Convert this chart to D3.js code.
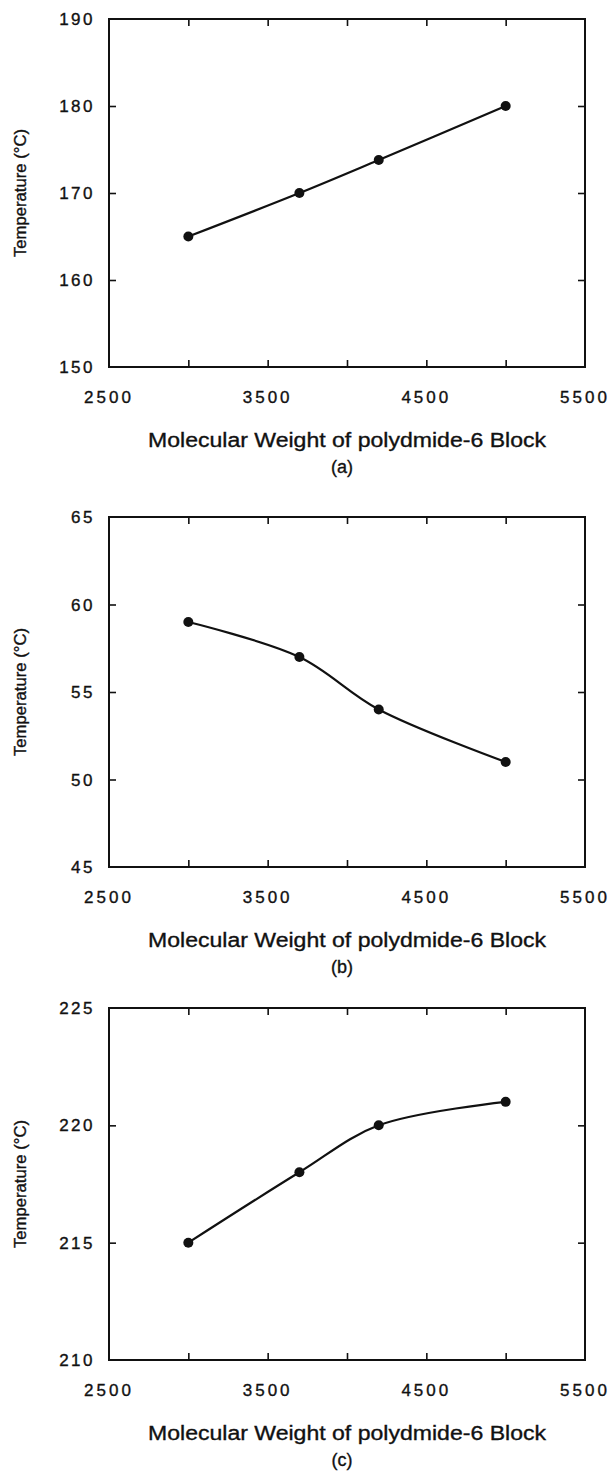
<!DOCTYPE html>
<html>
<head>
<meta charset="utf-8">
<script src="https://cdn.jsdelivr.net/npm/d3@7"></script>
<style>
  body { margin: 0; background: #fff; }
  text { font-family: "Liberation Sans", Arial, sans-serif; fill: #111; stroke: #111; stroke-width: 0.35; }
</style>
</head>
<body>
<div id="chart"></div>
<script>
var width = 610, height = 1478;

// molecular weight of the polyamide-6 block
var molWeight = [3000, 3700, 4200, 5000];
var xTicks = [2500, 3500, 4500, 5500];

// temperatures
var tempA = [165, 170, 173.8, 180];
var tempB = [59, 57, 54, 51];
var tempC = [215, 218, 220, 221];

var yTicksA = [150, 160, 170, 180, 190];
var yTicksB = [45, 50, 55, 60, 65];
var yTicksC = [210, 215, 220, 225];

var panels = [
  { values: tempA, ticks: yTicksA, label: "(a)", top: 19, bottom: 367 },
  { values: tempB, ticks: yTicksB, label: "(b)", top: 517, bottom: 867 },
  { values: tempC, ticks: yTicksC, label: "(c)", top: 1008, bottom: 1360 }
];

var left = 109, right = 585;

var svg = d3.select("#chart")
  .append("svg")
  .attr("width", width)
  .attr("height", height);

panels.forEach(function(p) {
  var x = d3.scaleLinear().domain([2500, 5500]).range([left, right]);
  var y = d3.scaleLinear().domain(d3.extent(p.ticks)).range([p.bottom, p.top]);

  var g = svg.append("g");

  // inner ticks on all four sides
  var xInner = d3.range(3000, 5001, 500);
  var yInner = p.ticks.slice(1, -1);
  var tk = 7;

  g.append("g")
    .attr("transform", "translate(0," + p.bottom + ")")
    .call(d3.axisBottom(x).tickValues(xInner).tickSize(-tk).tickFormat(""));
  g.append("g")
    .attr("transform", "translate(0," + p.top + ")")
    .call(d3.axisTop(x).tickValues(xInner).tickSize(-tk).tickFormat(""));
  g.append("g")
    .attr("transform", "translate(" + left + ",0)")
    .call(d3.axisLeft(y).tickValues(yInner).tickSize(-tk).tickFormat(""));
  g.append("g")
    .attr("transform", "translate(" + right + ",0)")
    .call(d3.axisRight(y).tickValues(yInner).tickSize(-tk).tickFormat(""));

  g.selectAll(".domain").remove();
  g.selectAll(".tick line").attr("stroke", "#111").attr("stroke-width", 1.6);

  // frame
  g.append("rect")
    .attr("x", left).attr("y", p.top)
    .attr("width", right - left).attr("height", p.bottom - p.top)
    .attr("fill", "none").attr("stroke", "#111").attr("stroke-width", 2);

  // y tick labels
  g.selectAll(".ylab")
    .data(p.ticks)
    .enter().append("text")
    .attr("x", left - 14)
    .attr("y", function(d) { return y(d); })
    .attr("dy", "0.36em")
    .attr("text-anchor", "end")
    .attr("font-size", 17)
    .attr("letter-spacing", 2.5)
    .text(function(d) { return d; });

  // x tick labels
  g.selectAll(".xlab")
    .data(xTicks)
    .enter().append("text")
    .attr("x", function(d) { return x(d); })
    .attr("y", p.bottom + 36)
    .attr("text-anchor", "middle")
    .attr("font-size", 17)
    .attr("letter-spacing", 3)
    .text(function(d) { return d; });

  // axis titles
  g.append("text")
    .attr("x", (left + right) / 2)
    .attr("y", p.bottom + 80)
    .attr("text-anchor", "middle")
    .attr("font-size", 20)
    .attr("textLength", 398)
    .attr("lengthAdjust", "spacingAndGlyphs")
    .text("Molecular Weight of polydmide-6 Block");

  g.append("text")
    .attr("transform", "translate(26," + (p.top + p.bottom) / 2 + ") rotate(-90)")
    .attr("text-anchor", "middle")
    .attr("font-size", 16)
    .attr("textLength", 128)
    .attr("lengthAdjust", "spacingAndGlyphs")
    .text("Temperature (\u00B0C)");

  g.append("text")
    .attr("x", (left + right) / 2 - 5)
    .attr("y", p.bottom + 106)
    .attr("text-anchor", "middle")
    .attr("font-size", 18)
    .text(p.label);

  // curve and markers
  var pts = molWeight.map(function(m, i) { return [m, p.values[i]]; });
  var line = d3.line()
    .x(function(d) { return x(d[0]); })
    .y(function(d) { return y(d[1]); })
    .curve(d3.curveCatmullRom.alpha(0.5));

  g.append("path")
    .datum(pts)
    .attr("d", line)
    .attr("fill", "none")
    .attr("stroke", "#111")
    .attr("stroke-width", 2.2);

  g.selectAll(".pt")
    .data(pts)
    .enter().append("circle")
    .attr("cx", function(d) { return x(d[0]); })
    .attr("cy", function(d) { return y(d[1]); })
    .attr("r", 5)
    .attr("fill", "#111");
});
</script>
</body>
</html>
